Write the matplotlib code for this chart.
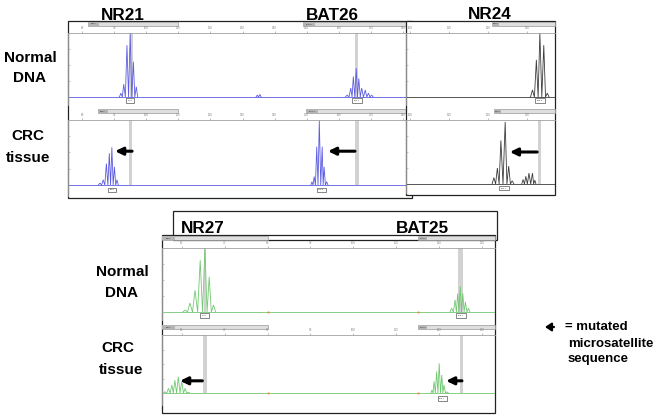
import matplotlib.pyplot as plt
from matplotlib.patches import Rectangle

plt.rcParams['font.family'] = ['Liberation Sans', 'DejaVu Sans']

W, H = 659, 419

# ---- peak sizes (bp) and relative heights ----
nr21_n_bp = [92.1, 93.0, 94.0, 95.0, 96.0, 96.9]
nr21_n_h = [0.06, 0.20, 0.81, 1.00, 0.55, 0.16]
bat26_n_bp = [162.6, 163.7, 164.5, 165.4, 166.2, 167.1, 168.2, 169.2, 170.2]
bat26_n_h = [0.03, 0.14, 0.32, 0.45, 0.29, 0.14, 0.11, 0.06, 0.03]
noise_n_bp = [134.6, 135.4]
noise_n_h = [0.03, 0.04]

nr21_t_bp = [85.6, 86.6, 87.6, 88.5, 89.3, 90.1, 90.9]
nr21_t_h = [0.03, 0.08, 0.33, 0.49, 0.58, 0.28, 0.08]
bat26_t_bp = [151.6, 152.3, 153.1, 153.9, 154.8, 155.4, 156.2]
bat26_t_h = [0.05, 0.13, 0.59, 0.99, 0.59, 0.28, 0.05]

nr24_n_bp = [131.4, 132.4, 133.3, 134.3, 135.2]
nr24_n_h = [0.11, 0.58, 1.00, 0.81, 0.06]
nr24_t_bp = [121.5, 122.4, 123.3, 124.4, 125.3, 126.2]
nr24_t_h = [0.10, 0.25, 0.68, 0.97, 0.28, 0.05]
nr24_t2_bp = [129.0, 129.7, 130.5, 131.4, 132.0]
nr24_t2_h = [0.07, 0.12, 0.17, 0.17, 0.06]

nr27_n_bp = [60.8, 61.9, 63.1, 64.3, 65.4, 66.4, 67.4]
nr27_n_h = [0.03, 0.14, 0.34, 0.81, 1.00, 0.55, 0.11]
bat25_n_bp = [122.9, 123.7, 124.3, 124.9, 125.5, 126.1, 126.8]
bat25_n_h = [0.06, 0.19, 0.29, 0.40, 0.29, 0.16, 0.06]
nr27_t_bp = [56.1, 56.9, 57.7, 58.4, 59.2, 60.0, 60.8, 61.5]
nr27_t_h = [0.02, 0.08, 0.14, 0.22, 0.28, 0.20, 0.08, 0.01]
bat25_t_bp = [118.3, 118.8, 119.4, 120.0, 120.6, 121.1, 121.8]
bat25_t_h = [0.05, 0.20, 0.37, 0.51, 0.31, 0.14, 0.02]
size_std_bp = [80.1, 115.1]

# bins (grey bands), marker bars, size labels, arrows (tail, head, height)
tl_n_bins = [(95.0, 96.0), (165.1, 166.0)]
tl_t_bins = [(94.6, 95.6), (165.0, 166.2)]
r_t_bins = [(132.7, 133.5)]
b_n_bins = [(65.2, 65.7), (124.4, 125.6)]
b_t_bins = [(64.9, 65.8), (124.9, 125.6)]

tl_n_bars = [(81.9, 109.9, 'NR21'), (148.8, 181.2, 'BAT26')]
tl_t_bars = [(85.0, 109.9, 'NR21'), (149.8, 181.2, 'BAT26')]
r_n_bars = [(121.0, 137.2, 'NR24')]
r_t_bars = [(121.5, 137.2, 'NR24')]
b_bars = [(55.4, 80.1, 'NR27'), (115.1, 133.0, 'BAT25')]

tl_n_sizes = [(95.0, '95.0'), (165.7, '165.7')]
tl_t_sizes = [(89.3, '89.3'), (154.5, '154.5')]
r_n_sizes = [(133.3, '133.3')]
r_t_sizes = [(124.1, '124.1')]
b_n_sizes = [(65.3, '65.3'), (125.1, '125.1')]
b_t_sizes = [(120.7, '120.7')]

tl_arrows = [(95.6, 90.3, 0.52), (165.0, 156.6, 0.52)]
r_arrows = [(132.6, 125.6, 0.50)]
b_arrows = [(64.8, 59.6, 0.21), (125.3, 121.6, 0.21)]

tl_ticks = list(range(80, 190, 10))
r_ticks = [100, 110, 120, 130]
b_ticks = list(range(60, 140, 10))

# lane geometry in pixels: ruler line, baseline, bottom, marker bar
TL_N = dict(x0=68, x1=406, top=33, base=97, bot=105, bar=(22, 26))
TL_T = dict(x0=68, x1=406, top=120, base=185, bot=196, bar=(109, 113))
R_N = dict(x0=406, x1=555, top=33, base=97, bot=105, bar=(22, 26))
R_T = dict(x0=406, x1=555, top=120, base=184, bot=193, bar=(109, 113))
B_N = dict(x0=162, x1=495, top=248, base=312, bot=320, bar=(236, 240))
B_T = dict(x0=162, x1=495, top=335, base=393, bot=405, bar=(325, 329))

BLUE = '#5c5ce0'
GREY = '#3c3c3c'
GREEN = '#72c872'

fig = plt.figure(figsize=(W / 100, H / 100), dpi=100)
fig.patch.set_facecolor('white')


def frame(z):
    a = fig.add_axes([0, 0, 1, 1], zorder=z)
    a.set_xlim(0, W)
    a.set_ylim(H, 0)
    a.axis('off')
    a.patch.set_alpha(0)
    return a


def lane(g, xlim, ticks, z):
    unit = g['base'] - g['top']
    ymin = -(g['bot'] - g['base']) / unit
    ax = fig.add_axes([g['x0'] / W, 1 - g['bot'] / H, (g['x1'] - g['x0']) / W,
                       (g['bot'] - g['top']) / H], zorder=z)
    ax.set_facecolor('none')
    ax.set_xlim(*xlim)
    ax.set_ylim(ymin, 1)
    ax.xaxis.tick_top()
    ax.set_xticks(ticks)
    ax.tick_params(axis='x', labelsize=2.2, length=1.5, width=0.4, pad=0.6, colors='#888888')
    ax.set_yticks([0.25, 0.5, 0.75])
    ax.tick_params(axis='y', labelleft=False, length=1.2, width=0.4, colors='#999999', direction='in')
    ax.spines['right'].set_visible(False)
    ax.spines['bottom'].set_visible(False)
    for s in ['top', 'left']:
        ax.spines[s].set_color('#a0a0a0')
        ax.spines[s].set_linewidth(0.6)
    ax.g = g
    ax.base_frac = -ymin / (1 - ymin)
    return ax


def trace(ax, bp, h, color):
    xs, ys = [], []
    for i, (p, v) in enumerate(zip(bp, h)):
        left = (p - bp[i - 1]) / 2 if i > 0 else (bp[1] - bp[0]) / 2 if len(bp) > 1 else 0.5
        right = (bp[i + 1] - p) / 2 if i + 1 < len(bp) else left
        if i == 0:
            xs.append(p - left)
            ys.append(0)
        xs += [p, p + right]
        ys += [v, 0]
    ax.plot(xs, ys, color=color, lw=0.6, solid_joinstyle='miter')


def decorate(ax, color, bins=(), bars=(), sizes=(), arrows=()):
    g = ax.g
    ax.axhline(0, color=color, lw=0.6)
    for x0, x1 in bins:
        ax.axvspan(x0, x1, ymin=ax.base_frac, ymax=1, color='#d2d2d2', lw=0, zorder=0)
    span = g['bot'] - g['top']
    yb0 = (g['bot'] - g['bar'][1]) / span
    yb1 = (g['bot'] - g['bar'][0]) / span
    tr = ax.get_xaxis_transform()
    for x0, x1, name in bars:
        ax.add_patch(Rectangle((x0, yb0), x1 - x0, yb1 - yb0, transform=tr, clip_on=False,
                               fc='#dedede', ec='#999999', lw=0.5))
        lw_ = (x1 - x0) * 0.12
        ax.add_patch(Rectangle((x0, yb0), lw_, yb1 - yb0, transform=tr, clip_on=False,
                               fc='#b4b4b4', ec='none'))
        ax.text(x0 + lw_ / 2, (yb0 + yb1) / 2, name, transform=tr, fontsize=1.6,
                ha='center', va='center', color='#333333', clip_on=False)
    for x, s in sizes:
        ax.text(x, ax.get_ylim()[0] * 0.45, s, fontsize=1.7, ha='center', va='center',
                color='#333333', bbox=dict(boxstyle='square,pad=0.7', fc='white', ec='#555555', lw=0.5))
    for tail, head, hy in arrows:
        ax.annotate('', xy=(head, hy), xytext=(tail, hy),
                    arrowprops=dict(arrowstyle='-|>,head_length=0.45,head_width=0.22',
                                    lw=2.2, color='black', mutation_scale=10,
                                    shrinkA=0, shrinkB=0))


# boxes of the upper-left panel and the lower panel
bg = frame(0)
bg.add_patch(Rectangle((68, 21), 344, 177, fc='white', ec='#222222', lw=0.9))
bg.add_patch(Rectangle((162, 235), 333, 178, fc='white', ec='#222222', lw=0.9))
bg.add_patch(Rectangle((173, 211), 324, 29, fc='none', ec='#222222', lw=0.9))

tl_lim = (75.64, 180.9)
a = lane(TL_N, tl_lim, tl_ticks, 1)
decorate(a, BLUE, tl_n_bins, tl_n_bars, tl_n_sizes)
trace(a, nr21_n_bp, nr21_n_h, BLUE)
trace(a, bat26_n_bp, bat26_n_h, BLUE)
trace(a, noise_n_bp, noise_n_h, BLUE)

a = lane(TL_T, tl_lim, tl_ticks, 1)
decorate(a, BLUE, tl_t_bins, tl_t_bars, tl_t_sizes, tl_arrows)
trace(a, nr21_t_bp, nr21_t_h, BLUE)
trace(a, bat26_t_bp, bat26_t_h, BLUE)

b_lim = (55.4, 133.0)
a = lane(B_N, b_lim, b_ticks, 1)
decorate(a, GREEN, b_n_bins, b_bars, b_n_sizes)
trace(a, nr27_n_bp, nr27_n_h, GREEN)
trace(a, bat25_n_bp, bat25_n_h, GREEN)
a.plot(size_std_bp, [0] * len(size_std_bp), 's', ms=1.3, color='#e08a30', mew=0)

a = lane(B_T, b_lim, b_ticks, 1)
decorate(a, GREEN, b_t_bins, b_bars, b_t_sizes, b_arrows)
trace(a, nr27_t_bp, nr27_t_h, GREEN)
trace(a, bat25_t_bp, bat25_t_h, GREEN)
a.plot(size_std_bp, [0] * len(size_std_bp), 's', ms=1.3, color='#e08a30', mew=0)

# NR24 panel sits on top of the right end of the upper-left panel
mid = frame(5)
mid.add_patch(Rectangle((406, 21), 149, 174, fc='white', ec='#222222', lw=0.9))

r_lim = (98.97, 137.18)
a = lane(R_N, r_lim, r_ticks, 6)
decorate(a, GREY, (), r_n_bars, r_n_sizes)
trace(a, nr24_n_bp, nr24_n_h, GREY)

a = lane(R_T, r_lim, r_ticks, 6)
decorate(a, GREY, r_t_bins, r_t_bars, r_t_sizes, r_arrows)
trace(a, nr24_t_bp, nr24_t_h, GREY)
trace(a, nr24_t2_bp, nr24_t2_h, GREY)

# labels
ov = frame(20)
bold = dict(fontweight='bold', color='black', ha='center', va='baseline')
for s, x, y in [('NR21', 123, 19.5), ('BAT26', 332, 19.5), ('NR24', 490, 19),
                ('NR27', 203, 233), ('BAT25', 422, 233)]:
    ov.text(x, y, s, fontsize=12.3, **bold)
for s, x, y in [('Normal', 30, 62), ('DNA', 30, 82), ('CRC', 28, 140), ('tissue', 28, 162),
                ('Normal', 122, 276), ('DNA', 122, 297), ('CRC', 118, 352), ('tissue', 121, 374)]:
    ov.text(x, y, s, fontsize=11, **bold)

ov.annotate('', xy=(545, 327), xytext=(554, 327),
            arrowprops=dict(arrowstyle='-|>,head_length=0.45,head_width=0.3', lw=1.6,
                            color='black', mutation_scale=8, shrinkA=0, shrinkB=0))
ov.text(565, 330, '= mutated', fontsize=9.5, fontweight='bold', ha='left', va='baseline')
ov.text(568, 347, 'microsatellite', fontsize=9.5, fontweight='bold', ha='left', va='baseline')
ov.text(568, 362, 'sequence', fontsize=9.5, fontweight='bold', ha='left', va='baseline')

fig.savefig('out.png', dpi=100)
